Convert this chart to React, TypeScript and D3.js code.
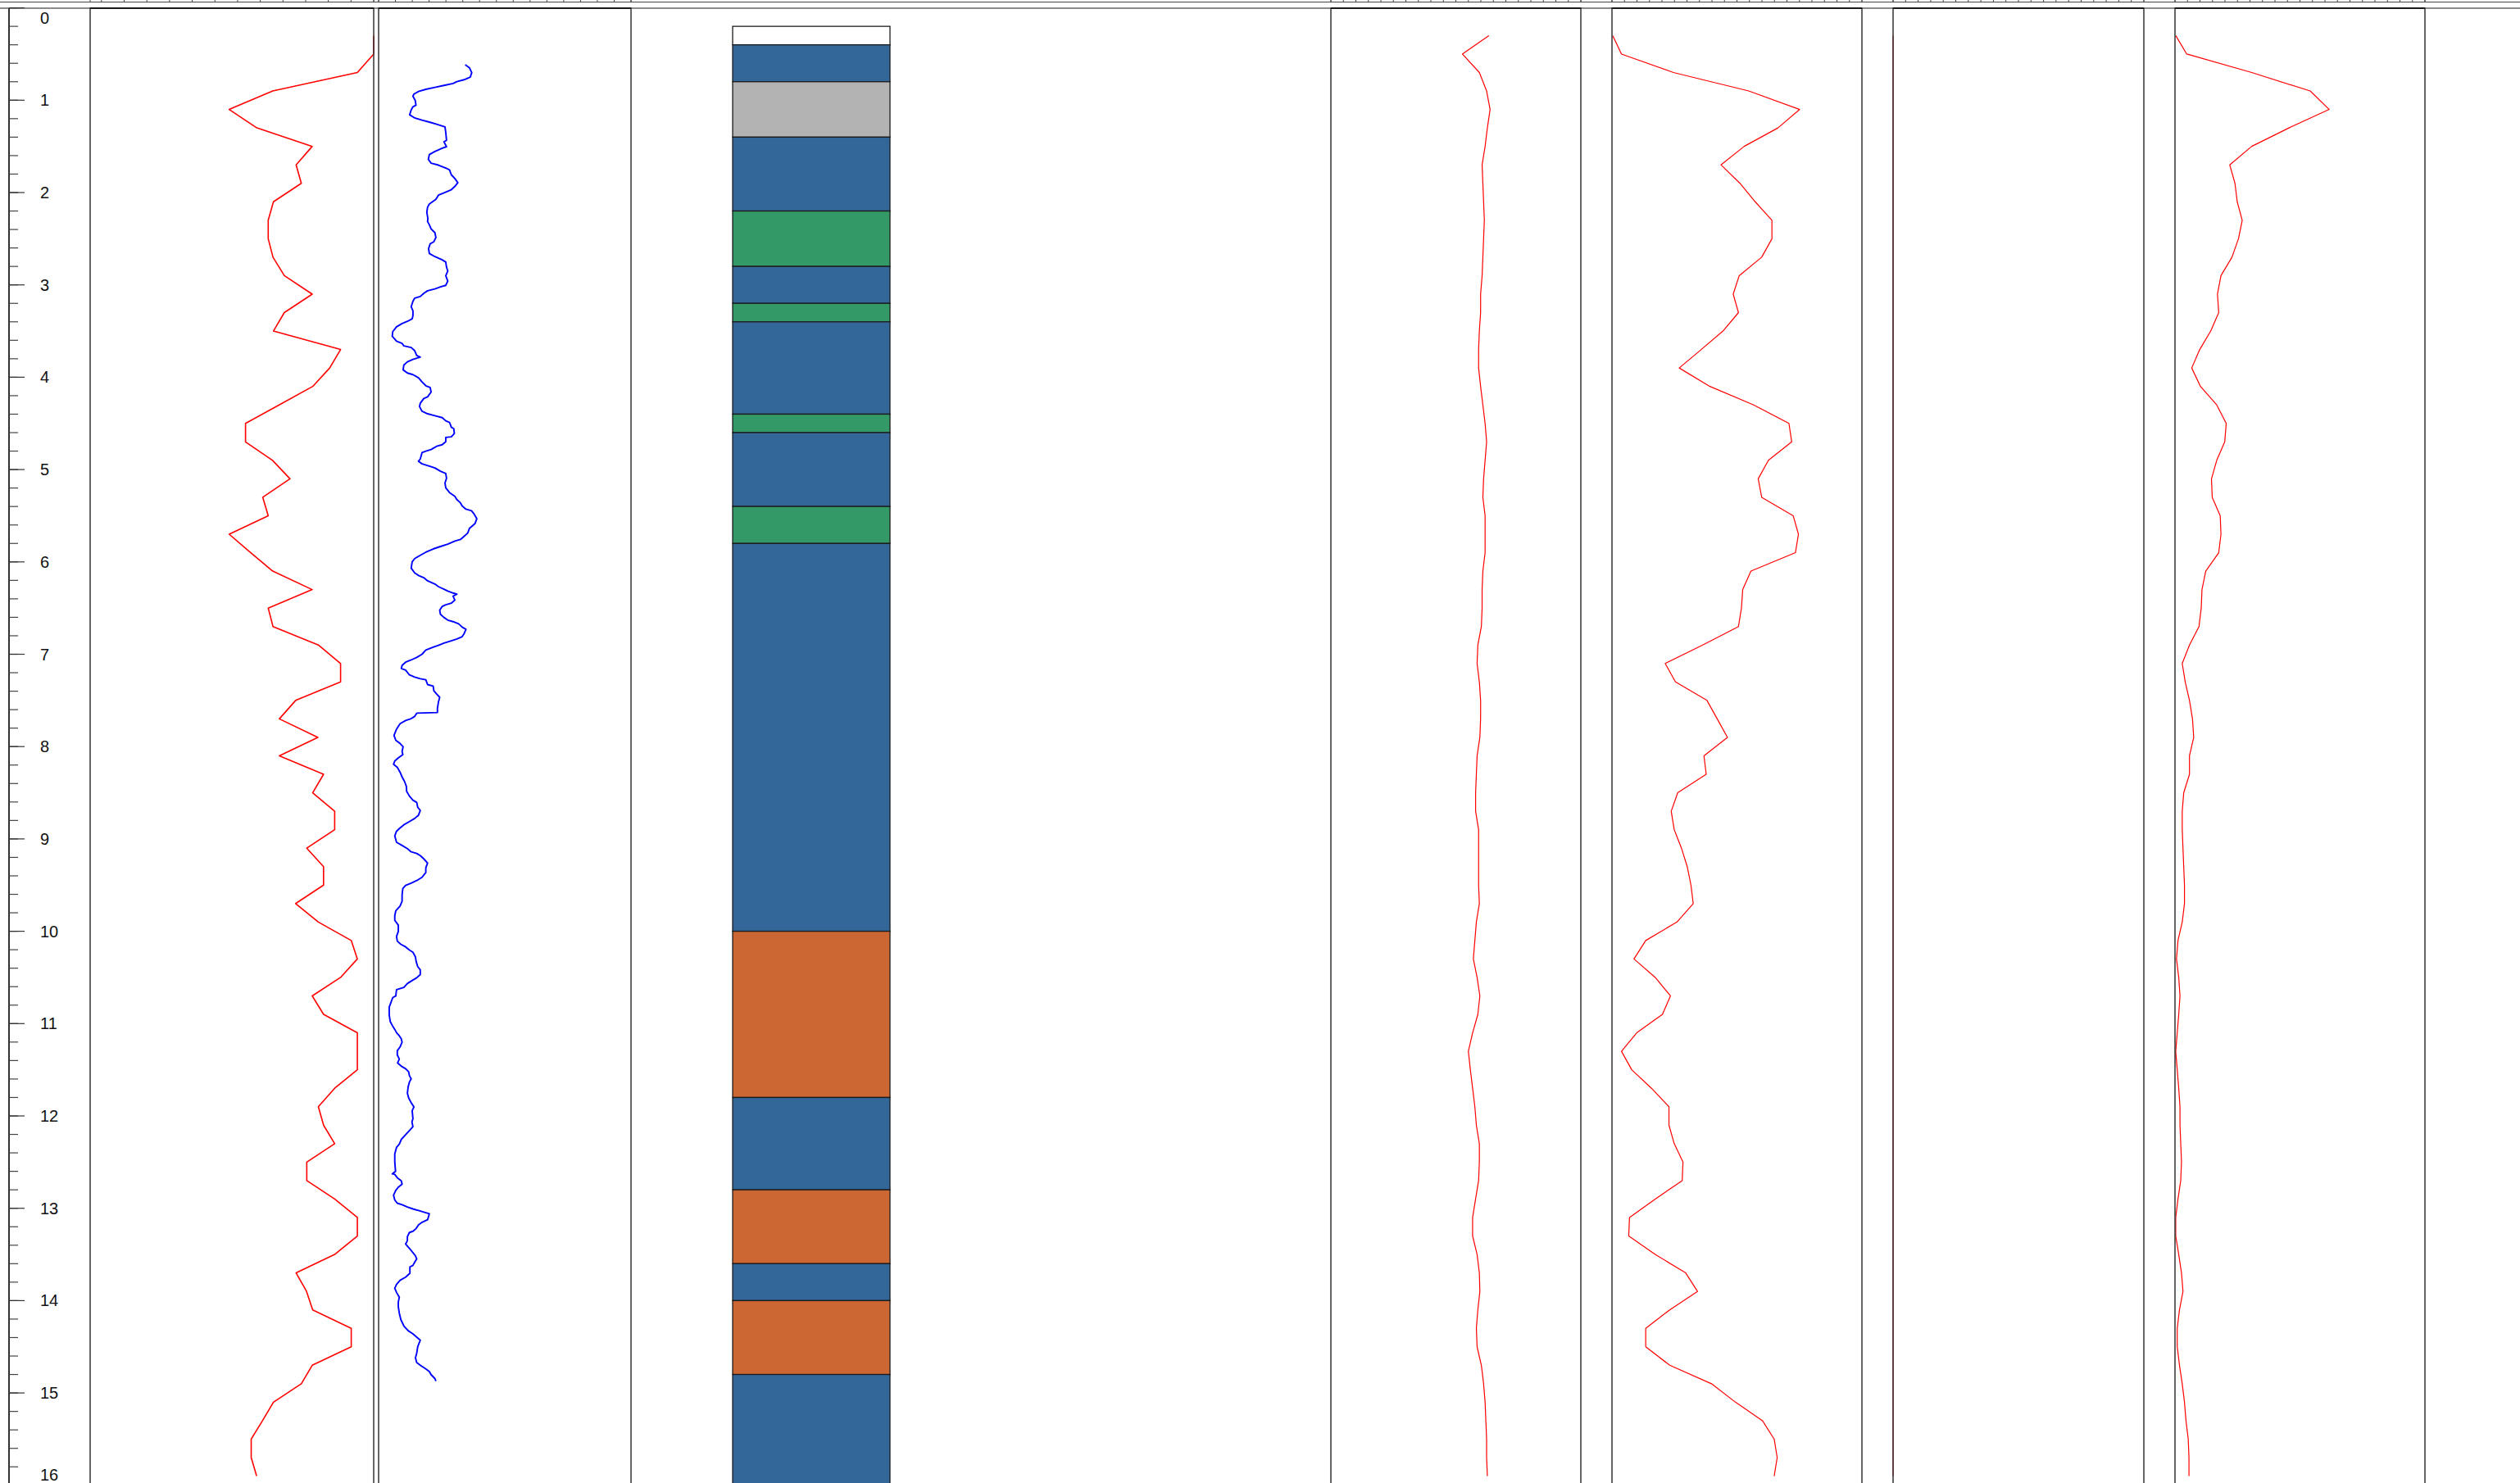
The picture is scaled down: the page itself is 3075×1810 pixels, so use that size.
import React from "react";
import * as d3 from "d3";

const WIDTH = 3075;
const HEIGHT = 1810;

const DEPTH_DOMAIN = [0, 16];

// sample depths shared by the sparse logs
const SAMPLE_DEPTHS = [
  0.3, 0.5, 0.7, 0.9, 1.1, 1.3, 1.5, 1.7, 1.9, 2.1, 2.3, 2.5, 2.7, 2.9, 3.1, 3.3, 3.5, 3.7, 3.9, 4.1,
  4.3, 4.5, 4.7, 4.9, 5.1, 5.3, 5.5, 5.7, 5.9, 6.1, 6.3, 6.5, 6.7, 6.9, 7.1, 7.3, 7.5, 7.7, 7.9, 8.1,
  8.3, 8.5, 8.7, 8.9, 9.1, 9.3, 9.5, 9.7, 9.9, 10.1, 10.3, 10.5, 10.7, 10.9, 11.1, 11.3, 11.5, 11.7, 11.9, 12.1,
  12.3, 12.5, 12.7, 12.9, 13.1, 13.3, 13.5, 13.7, 13.9, 14.1, 14.3, 14.5, 14.7, 14.9, 15.1, 15.3, 15.5, 15.7, 15.9,
];

// track 1 (red)
const LOG_A = [
  120, 120, 112.8, 75.5, 56.3, 68.5, 92.9, 85.8, 88.1, 75.8,
  73.5, 73.5, 75.6, 80.6, 92.9, 80.6, 75.8, 105.4, 100.6, 93.1,
  78.3, 63.5, 63.5, 75.4, 83.1, 71.1, 73.5, 56.3, 65.8, 75.5,
  92.9, 73.5, 75.6, 95.6, 105.4, 105.4, 85.6, 78.4, 95.4, 78.4,
  97.9, 93.1, 102.8, 102.8, 90.5, 97.9, 97.9, 85.6, 95.6, 110.1,
  112.8, 105.4, 92.9, 97.9, 112.8, 112.8, 112.8, 102.8, 95.6, 97.9,
  102.8, 90.5, 90.5, 102.8, 112.8, 112.8, 102.8, 85.8, 90.4, 93.1,
  110.1, 110.1, 92.9, 88.1, 75.8, 71.0, 66.0, 66.0, 68.4,
];

// track 2 (blue, dense)
const BLUE_DEPTHS = [
  0.616, 0.65, 0.702, 0.75, 0.778, 0.799, 0.819, 0.84, 0.861, 0.882, 0.906, 0.933, 0.957, 1.002, 1.054, 1.071, 1.106, 1.158, 1.192, 1.216,
  1.237, 1.261, 1.289, 1.348, 1.434, 1.451, 1.503, 1.52, 1.555, 1.589, 1.641, 1.682, 1.703, 1.734, 1.755, 1.807, 1.848, 1.893, 1.934, 1.969,
  2.004, 2.028, 2.073, 2.124, 2.159, 2.211, 2.28, 2.314, 2.349, 2.394, 2.435, 2.487, 2.532, 2.556, 2.608, 2.66, 2.694, 2.729, 2.753, 2.808,
  2.85, 2.901, 2.96, 3.005, 3.022, 3.043, 3.064, 3.091, 3.126, 3.143, 3.178, 3.236, 3.281, 3.333, 3.367, 3.395, 3.419, 3.454, 3.506, 3.557,
  3.609, 3.633, 3.661, 3.678, 3.713, 3.764, 3.782, 3.806, 3.833, 3.868, 3.92, 3.954, 3.972, 4.006, 4.051, 4.092, 4.11, 4.161, 4.213, 4.231,
  4.282, 4.317, 4.369, 4.396, 4.417, 4.438, 4.472, 4.489, 4.541, 4.558, 4.61, 4.645, 4.652, 4.697, 4.731, 4.748, 4.783, 4.8, 4.817, 4.886,
  4.91, 4.938, 4.962, 4.983, 5.018, 5.042, 5.094, 5.145, 5.197, 5.249, 5.29, 5.325, 5.36, 5.394, 5.429, 5.446, 5.48, 5.532, 5.584, 5.618,
  5.636, 5.688, 5.722, 5.757, 5.774, 5.808, 5.833, 5.86, 5.895, 5.929, 5.964, 5.998, 6.067, 6.119, 6.147, 6.171, 6.205, 6.24, 6.268, 6.295,
  6.316, 6.337, 6.35, 6.371, 6.413, 6.447, 6.464, 6.482, 6.523, 6.568, 6.602, 6.63, 6.647, 6.671, 6.706, 6.73, 6.775, 6.81, 6.834, 6.854,
  6.879, 6.903, 6.924, 6.955, 7.0, 7.034, 7.062, 7.086, 7.12, 7.155, 7.172, 7.224, 7.248, 7.265, 7.276, 7.328, 7.345, 7.397, 7.431, 7.466,
  7.518, 7.587, 7.631, 7.638, 7.673, 7.697, 7.718, 7.752, 7.811, 7.88, 7.932, 7.966, 8.001, 8.053, 8.087, 8.122, 8.156, 8.191, 8.225, 8.277,
  8.329, 8.38, 8.432, 8.484, 8.536, 8.581, 8.605, 8.657, 8.691, 8.743, 8.778, 8.812, 8.847, 8.881, 8.916, 8.968, 9.036, 9.071, 9.105, 9.14,
  9.157, 9.181, 9.216, 9.261, 9.313, 9.364, 9.416, 9.451, 9.478, 9.503, 9.537, 9.606, 9.675, 9.727, 9.779, 9.831, 9.882, 9.934, 10.003, 10.055,
  10.107, 10.141, 10.169, 10.203, 10.228, 10.279, 10.331, 10.383, 10.418, 10.469, 10.504, 10.528, 10.566, 10.608, 10.632, 10.701, 10.718, 10.77, 10.821, 10.908,
  10.977, 11.029, 11.063, 11.098, 11.132, 11.167, 11.201, 11.253, 11.294, 11.339, 11.384, 11.426, 11.467, 11.488, 11.522, 11.564, 11.598, 11.633, 11.685, 11.754,
  11.805, 11.857, 11.902, 11.944, 12.03, 12.064, 12.116, 12.158, 12.203, 12.254, 12.306, 12.341, 12.41, 12.496, 12.6, 12.627, 12.634, 12.669, 12.703, 12.738,
  12.772, 12.807, 12.859, 12.91, 12.945, 12.962, 12.986, 13.007, 13.024, 13.041, 13.059, 13.124, 13.152, 13.18, 13.221, 13.249, 13.262, 13.307, 13.352, 13.387,
  13.435, 13.48, 13.515, 13.549, 13.584, 13.618, 13.635, 13.704, 13.746, 13.78, 13.825, 13.867, 13.911, 13.963, 14.015, 14.067, 14.136, 14.205, 14.274, 14.326,
  14.36, 14.395, 14.429, 14.499, 14.568, 14.619, 14.671, 14.699, 14.74, 14.768, 14.802, 14.844, 14.871,
];
const BLUE_VALUES = [
  34.3, 36.0, 36.9, 36.3, 33.9, 31.0, 29.5, 25.9, 22.3, 18.7, 15.8, 14.0, 13.6, 14.5, 14.8, 13.6, 12.9, 12.3, 14.3, 17.2,
  20.1, 23.0, 26.3, 26.6, 26.9, 25.9, 26.9, 25.2, 22.3, 20.1, 19.7, 20.8, 23.7, 26.6, 28.1, 28.8, 30.2, 31.4, 30.2, 28.8,
  25.9, 23.7, 22.7, 20.1, 19.4, 19.1, 19.5, 19.4, 20.1, 20.8, 22.3, 22.7, 21.9, 20.4, 19.8, 20.1, 22.3, 25.2, 26.6, 26.9,
  27.4, 26.6, 27.4, 26.6, 24.5, 22.3, 19.4, 17.9, 16.5, 14.3, 13.6, 12.9, 13.6, 13.6, 13.3, 11.4, 9.3, 7.1, 5.6, 5.4,
  7.1, 9.3, 10.0, 12.9, 14.3, 15.1, 16.5, 13.6, 11.4, 10.0, 9.7, 11.4, 13.6, 15.8, 17.2, 18.7, 20.4, 20.8, 19.4, 17.9,
  16.5, 16.2, 17.2, 19.4, 22.3, 25.2, 26.6, 28.1, 28.8, 29.8, 30.0, 28.8, 26.6, 26.6, 25.2, 23.0, 20.8, 18.7, 17.2, 16.5,
  15.8, 17.2, 20.1, 22.3, 24.5, 26.6, 26.9, 26.3, 26.6, 28.1, 30.2, 31.0, 32.4, 33.1, 34.6, 36.8, 37.8, 38.9, 38.2, 36.8,
  36.0, 35.3, 33.9, 32.4, 30.2, 27.4, 24.5, 21.6, 18.7, 16.5, 14.3, 13.3, 12.9, 14.3, 15.8, 17.9, 19.4, 22.3, 23.7, 25.9,
  27.4, 29.5, 31.0, 29.5, 30.2, 28.8, 26.6, 25.2, 24.2, 24.5, 25.9, 27.4, 29.5, 31.7, 33.1, 34.6, 33.9, 33.1, 31.0, 28.8,
  25.9, 23.7, 21.6, 18.7, 17.2, 15.1, 12.9, 10.7, 9.3, 9.0, 10.7, 12.2, 14.3, 16.5, 18.7, 19.4, 21.6, 21.9, 23.0, 24.2,
  23.7, 23.3, 23.3, 15.1, 14.3, 12.9, 10.7, 8.5, 7.1, 6.1, 6.8, 8.5, 9.7, 9.3, 9.6, 7.8, 6.4, 5.9, 7.4, 8.5,
  9.3, 10.3, 11.0, 11.1, 12.2, 13.6, 15.1, 15.5, 16.5, 15.8, 14.3, 12.2, 10.0, 8.5, 7.1, 6.4, 7.1, 9.3, 11.4, 12.9,
  15.1, 16.5, 17.9, 19.4, 18.7, 18.7, 17.2, 15.1, 12.9, 10.7, 9.6, 9.3, 9.3, 8.5, 6.8, 6.4, 6.4, 7.8, 7.8, 7.1,
  7.4, 8.8, 10.7, 12.2, 13.6, 14.6, 14.9, 15.5, 16.5, 16.5, 15.1, 13.6, 11.4, 10.0, 7.1, 6.8, 5.6, 4.9, 4.2, 4.2,
  4.6, 5.6, 6.4, 7.1, 8.2, 9.0, 9.3, 8.5, 7.4, 7.4, 8.2, 7.5, 9.3, 10.7, 11.9, 12.2, 12.9, 12.2, 11.7, 11.4,
  11.9, 12.9, 14.0, 13.3, 13.6, 13.2, 13.6, 12.2, 10.7, 9.0, 8.2, 7.1, 6.4, 6.4, 6.7, 5.4, 6.4, 7.4, 9.0, 9.3,
  7.8, 6.8, 5.9, 6.4, 7.4, 9.3, 11.4, 13.6, 15.8, 17.9, 20.1, 19.4, 17.2, 15.8, 14.8, 13.6, 12.2, 11.4, 11.4, 10.7,
  12.2, 13.6, 14.6, 15.1, 14.3, 13.6, 12.4, 12.4, 10.7, 8.5, 7.1, 6.4, 7.1, 8.2, 7.8, 7.8, 8.2, 8.8, 10.0, 11.7,
  13.6, 15.1, 16.5, 15.5, 15.1, 14.6, 15.1, 16.5, 18.7, 20.1, 20.8, 22.3, 22.7,
];

// track 3
const LOG_C = [
  63.2, 52.6, 59.4, 62.3, 63.7, 62.6, 61.7, 60.5, 60.8, 61.1,
  61.4, 61.1, 60.8, 60.5, 59.9, 59.9, 59.4, 59.1, 59.1, 59.9,
  60.8, 61.7, 62.3, 61.7, 61.1, 60.8, 61.7, 61.7, 61.7, 60.8,
  60.5, 60.5, 60.2, 58.8, 58.5, 59.4, 59.9, 59.9, 59.6, 58.5,
  58.2, 57.9, 57.9, 59.1, 59.1, 59.1, 59.1, 59.4, 58.2, 57.6,
  57.0, 58.5, 59.6, 58.8, 56.7, 55.0, 55.8, 56.7, 57.6, 58.2,
  59.4, 59.4, 59.1, 57.9, 56.7, 56.7, 58.5, 59.4, 59.6, 58.8,
  58.2, 58.5, 60.2, 61.1, 61.7, 62.0, 62.3, 62.3, 62.6,
];

// track 4
const LOG_D = [
  0.3, 3.8, 24.6, 54.7, 75.1, 66.4, 52.9, 43.6, 51.2, 57.3,
  64.0, 64.0, 59.9, 50.9, 48.5, 50.6, 44.4, 35.7, 26.9, 39.2,
  56.7, 70.8, 71.9, 62.6, 58.5, 59.9, 72.5, 74.6, 73.4, 55.6,
  52.3, 51.8, 50.6, 36.3, 21.3, 25.4, 38.0, 42.1, 46.2, 36.8,
  37.7, 26.3, 23.7, 24.9, 27.8, 30.1, 31.6, 32.5, 26.0, 13.5,
  8.8, 17.3, 23.4, 20.2, 9.9, 3.8, 7.9, 15.8, 22.8, 22.8,
  24.9, 28.4, 28.1, 17.3, 7.0, 6.7, 17.3, 29.5, 34.2, 23.1,
  13.5, 13.5, 23.1, 39.8, 49.4, 60.2, 64.9, 66.1, 64.9,
];

// track 5 (flat at zero)
const LOG_E = [
  0, 0, 0, 0, 0, 0, 0, 0, 0, 0, 0, 0, 0, 0, 0, 0, 0, 0, 0, 0,
  0, 0, 0, 0, 0, 0, 0, 0, 0, 0, 0, 0, 0, 0, 0, 0, 0, 0, 0, 0,
  0, 0, 0, 0, 0, 0, 0, 0, 0, 0, 0, 0, 0, 0, 0, 0, 0, 0, 0, 0,
  0, 0, 0, 0, 0, 0, 0, 0, 0, 0, 0, 0, 0, 0, 0, 0, 0, 0, 0,
];

// track 6
const LOG_F = [
  0.3, 4.7, 30.7, 54.1, 61.7, 45.6, 30.7, 21.9, 24.0, 24.9,
  26.9, 25.4, 22.8, 18.4, 17.0, 17.5, 14.3, 9.9, 6.7, 10.2,
  16.7, 20.5, 19.9, 16.7, 14.6, 14.9, 18.1, 18.4, 17.5, 12.3,
  10.8, 10.5, 9.6, 5.8, 2.9, 4.1, 5.8, 7.0, 7.5, 5.8,
  5.8, 3.5, 2.9, 2.9, 3.2, 3.5, 3.8, 3.8, 2.9, 1.2,
  0.6, 1.5, 2.0, 1.5, 0.9, 0.3, 0.9, 1.5, 2.0, 2.0,
  2.3, 2.6, 2.3, 1.2, 0.3, 0.3, 1.5, 2.6, 3.2, 1.8,
  0.9, 0.9, 1.8, 2.9, 3.8, 4.4, 5.3, 5.6, 5.6,
];

// lithology column
const LITH_TOPS = [0.2, 0.4, 0.8, 1.4, 2.2, 2.8, 3.2, 3.4, 4.4, 4.6, 5.4, 5.8, 10.0, 11.8, 12.8, 13.6, 14.0, 14.8];
const LITH_BASES = [0.4, 0.8, 1.4, 2.2, 2.8, 3.2, 3.4, 4.4, 4.6, 5.4, 5.8, 10.0, 11.8, 12.8, 13.6, 14.0, 14.8, 16.0];
const LITH_CODES = ["none", "blue", "gray", "blue", "green", "blue", "green", "blue", "green", "blue", "green", "blue", "orange", "blue", "orange", "blue", "orange", "blue"];
const LITH_COLORS: Record<string, string> = {
  none: "#ffffff",
  blue: "#336699",
  gray: "#b3b3b3",
  green: "#339966",
  orange: "#cc6633",
};

const DEPTH_MAJOR_TICKS = [0, 1, 2, 3, 4, 5, 6, 7, 8, 9, 10, 11, 12, 13, 14, 15, 16];

type Track = {
  id: string;
  x0: number;
  x1: number;
  domain: [number, number];
  tickValues: number[];
  depths: number[];
  values: number[];
  color: string;
  width: number;
};

export default function App() {
  const y = d3.scaleLinear().domain(DEPTH_DOMAIN).range([9.6, 1812.8]);
  const frameTop = 10;
  const bottom = 1813;

  const even = (a: number, b: number, n: number) => d3.range(n + 1).map((i) => a + ((b - a) * i) / n);

  const tracks: Track[] = [
    { id: "t1", x0: 110, x1: 456, domain: [-5, 120], tickValues: d3.range(0, 121, 10), depths: SAMPLE_DEPTHS, values: LOG_A, color: "#ff0000", width: 1.6 },
    { id: "t2", x0: 462, x1: 770, domain: [0, 100], tickValues: even(0, 100, 15), depths: BLUE_DEPTHS, values: BLUE_VALUES, color: "#0000ff", width: 1.9 },
    { id: "t3", x0: 1624, x1: 1929, domain: [0, 100], tickValues: even(0, 100, 20), depths: SAMPLE_DEPTHS, values: LOG_C, color: "#ff0000", width: 1.2 },
    { id: "t4", x0: 1967, x1: 2272, domain: [0, 100], tickValues: even(0, 100, 20), depths: SAMPLE_DEPTHS, values: LOG_D, color: "#ff0000", width: 1.2 },
    { id: "t5", x0: 2310, x1: 2616, domain: [0, 100], tickValues: even(0, 100, 20), depths: SAMPLE_DEPTHS, values: LOG_E, color: "#cc0000", width: 1.2 },
    { id: "t6", x0: 2654, x1: 2959, domain: [0, 100], tickValues: even(0, 100, 20), depths: SAMPLE_DEPTHS, values: LOG_F, color: "#ff0000", width: 1.2 },
  ];

  const lithX0 = 894;
  const lithX1 = 1086;

  const minorTicks = y.ticks(80);

  return (
    <svg
      width={WIDTH}
      height={HEIGHT}
      style={{ position: "absolute", left: 0, top: 0, background: "#fff" }}
      fontFamily="'Liberation Sans', Arial, Helvetica, sans-serif"
    >
      <rect x={0} y={0} width={WIDTH} height={HEIGHT} fill="#ffffff" />
      <defs>
        {tracks.map((t) => (
          <clipPath id={`clip-${t.id}`} key={t.id}>
            <rect x={t.x0 - 1} y={frameTop} width={t.x1 - t.x0 + 2} height={bottom - frameTop} />
          </clipPath>
        ))}
      </defs>

      {/* top strip lines */}
      <line x1={0} x2={WIDTH} y1={2.5} y2={2.5} stroke="#444" strokeWidth={1} />
      <line x1={0} x2={WIDTH} y1={10} y2={10} stroke="#8a8a8a" strokeWidth={2} />

      {/* depth axis */}
      <line x1={11} x2={11} y1={frameTop} y2={HEIGHT} stroke="#333" strokeWidth={2} />
      {minorTicks.map((d) => (
        <line key={`mt${d}`} x1={11} x2={22} y1={y(d)} y2={y(d)} stroke="#444" strokeWidth={1.2} />
      ))}
      {DEPTH_MAJOR_TICKS.map((d) => (
        <g key={`Mt${d}`}>
          <line x1={11} x2={30} y1={y(d)} y2={y(d)} stroke="#333" strokeWidth={1.2} />
          <text
            x={49}
            y={Math.max(22, Math.min(1800, y(d)))}
            fontSize={20}
            fill="#111"
            dominantBaseline="central"
            textAnchor="start"
          >
            {d}
          </text>
        </g>
      ))}

      {/* tracks */}
      {tracks.map((t) => {
        const x = d3.scaleLinear().domain(t.domain).range([t.x0, t.x1]);
        const line = d3
          .line<number>()
          .x((_, i) => x(t.values[i]))
          .y((d) => y(d));
        return (
          <g key={t.id}>
            {t.tickValues.map((v, i) => (
              <line key={i} x1={x(v)} x2={x(v)} y1={0} y2={2.5} stroke="#444" strokeWidth={1} />
            ))}
            <line x1={t.x0} x2={t.x0} y1={0} y2={2.5} stroke="#444" strokeWidth={1} />
            <line x1={t.x1} x2={t.x1} y1={0} y2={2.5} stroke="#444" strokeWidth={1} />
            <path
              d={line(t.depths) || ""}
              fill="none"
              stroke={t.color}
              strokeWidth={t.width}
              strokeLinejoin="round"
              clipPath={`url(#clip-${t.id})`}
            />
            <rect x={t.x0} y={frameTop} width={t.x1 - t.x0} height={bottom - frameTop} fill="none" stroke="#333" strokeWidth={1.5} />
            <line x1={t.x0} x2={t.x1} y1={frameTop} y2={frameTop} stroke="#1a1a1a" strokeWidth={2.2} />
          </g>
        );
      })}

      {/* lithology */}
      <g>
        {LITH_TOPS.map((top, i) => (
          <rect
            key={`l${i}`}
            x={lithX0}
            y={y(top)}
            width={lithX1 - lithX0}
            height={y(LITH_BASES[i]) - y(top)}
            fill={LITH_COLORS[LITH_CODES[i]]}
            stroke="#1c1c1c"
            strokeWidth={1.3}
          />
        ))}
      </g>
    </svg>
  );
}
